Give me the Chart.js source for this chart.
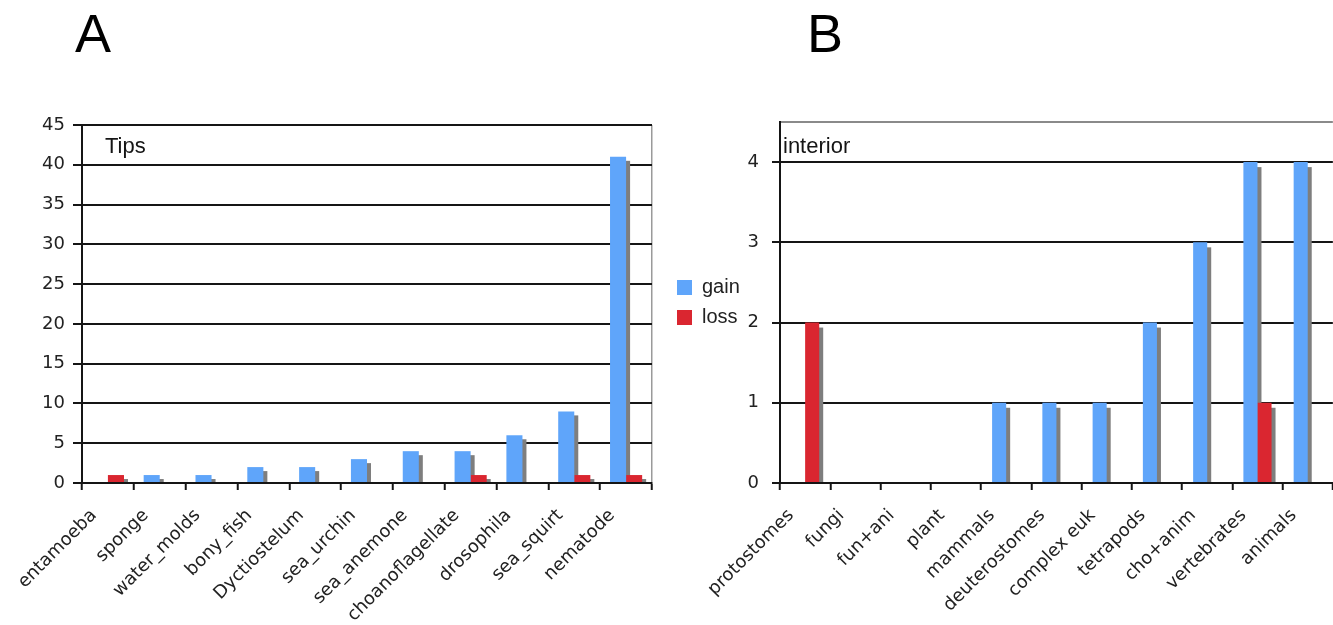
<!DOCTYPE html>
<html><head><meta charset="utf-8">
<script src="https://cdn.jsdelivr.net/npm/chart.js@4.4.1/dist/chart.umd.min.js"></script>
<style>
html,body{margin:0;padding:0;background:#fff;}
body{width:1333px;height:625px;position:relative;overflow:hidden;}
.panel{position:absolute;font-family:"Liberation Sans",Arial,sans-serif;font-size:54px;line-height:54px;color:#000;}
canvas{position:absolute;top:0;}
#cA{left:0;}
#cB{left:660px;}
</style></head><body>
<canvas id="cA" width="660" height="625"></canvas>
<canvas id="cB" width="678" height="625"></canvas>
<div class="panel" style="left:75px;top:6px">A</div>
<div class="panel" style="left:807px;top:6px">B</div>
<script>
// ---- data ----
const tipsCategories = ["entamoeba","sponge","water_molds","bony_fish","Dyctiostelum","sea_urchin","sea_anemone","choanoflagellate","drosophila","sea_squirt","nematode"];
const tipsGain = [0,1,1,2,2,3,4,4,6,9,41];
const tipsLoss = [1,0,0,0,0,0,0,1,0,1,1];
const tipsTicks = [0,5,10,15,20,25,30,35,40,45];

const interiorCategories = ["protostomes","fungi","fun+ani","plant","mammals","deuterostomes","complex euk","tetrapods","cho+anim","vertebrates","animals"];
const interiorGain = [0,0,0,0,1,1,1,2,3,4,4];
const interiorLoss = [2,0,0,0,0,0,0,0,0,1,0];
const interiorTicks = [0,1,2,3,4];

const seriesNames = ["gain","loss"];
const GAIN = "#5fa5fa", LOSS = "#da2630", SHADOW = "#7e7e7e", INK = "#151515";

// ---- plugins ----
const barShadow = {
  id:'barShadow',
  beforeDatasetsDraw(chart, args, o){
    const {ctx, chartArea:a} = chart;
    ctx.save();
    ctx.beginPath(); ctx.rect(a.left, a.top, a.right-a.left, a.bottom-a.top); ctx.clip();
    ctx.fillStyle = o.color;
    chart.data.datasets.forEach((ds,i)=>{
      const meta = chart.getDatasetMeta(i);
      if (meta.hidden) return;
      meta.data.forEach((el,j)=>{
        if (!ds.data[j]) return;
        const p = el.getProps(['x','y','base','width'], true);
        ctx.fillRect(p.x - p.width/2 + o.dx, p.y + o.dy, p.width, p.base - p.y - o.dy);
      });
    });
    ctx.restore();
  }
};
const cornerLabel = {
  id:'cornerLabel',
  afterDatasetsDraw(chart, args, o){
    const {ctx, chartArea:a} = chart;
    ctx.save();
    ctx.font = o.font; ctx.fillStyle = INK; ctx.textAlign='left'; ctx.textBaseline='alphabetic';
    ctx.fillText(o.text, a.left + o.dx, a.top + o.dy);
    ctx.restore();
  }
};

const tickFont = {family:"DejaVu Sans", size:18};

function makeConfig(cats, gain, loss, opts){
  return {
    type:'bar',
    data:{labels:cats, datasets:[
      {label:seriesNames[0], data:gain, backgroundColor:GAIN, borderWidth:0},
      {label:seriesNames[1], data:loss, backgroundColor:LOSS, borderWidth:0}
    ]},
    options:{
      responsive:false, animation:false, events:[],
      layout:{padding:opts.padding},
      datasets:{bar:{categoryPercentage:opts.catPct, barPercentage:1}},
      plugins:{
        legend:opts.legend,
        tooltip:{enabled:false},
        barShadow:{color:SHADOW, dx:4, dy:opts.shadowDy},
        cornerLabel:{text:opts.cornerText, font:'22px "Liberation Sans", Arial, sans-serif', dx:opts.cornerDx, dy:opts.cornerDy}
      },
      scales:{
        x:{
          grid:{offset:true, drawOnChartArea:true, drawTicks:true, tickLength:7, tickWidth:2, tickColor:INK,
                color:(c)=> c.type==='tick' ? 'rgba(0,0,0,0)' : opts.rightBorder, lineWidth:1.5},
          border:{color:INK, width:2},
          ticks:{font:tickFont, color:'#222', minRotation:45, maxRotation:45, autoSkip:false, padding:15, labelOffset:-14},
          afterFit:(s)=>{ s.height = 142; }
        },
        y:{
          min:0, max:opts.yMax,
          afterBuildTicks:(s)=>{ s.ticks = opts.ticks.concat(opts.yMax>opts.ticks[opts.ticks.length-1]?[opts.yMax]:[]).map(v=>({value:v})); },
          ticks:{font:tickFont, color:'#222', padding:opts.yPad, callback:(v)=> opts.ticks.includes(v) ? String(v) : ''},
          grid:{lineWidth:2, tickLength:opts.yTick,
                color:(c)=> (c.tick && !opts.ticks.includes(c.tick.value)) ? '#8a8a8a' : INK,
                tickColor:(c)=> (c.tick && !opts.ticks.includes(c.tick.value)) ? 'rgba(0,0,0,0)' : INK},
          border:{color:INK, width:2},
          afterFit:(s)=>{ s.width = opts.yWidth; }
        }
      }
    },
    plugins:[barShadow, cornerLabel]
  };
}

new Chart(document.getElementById('cA'), makeConfig(tipsCategories, tipsGain, tipsLoss, {
  padding:{left:0,right:8,top:125,bottom:0}, catPct:0.62, shadowDy:4,
  legend:{display:false}, cornerText:'Tips', cornerDx:23, cornerDy:28,
  rightBorder:'#9a9a9a', yMax:45, ticks:tipsTicks, yPad:8, yTick:9, yWidth:82
}));

new Chart(document.getElementById('cB'), makeConfig(interiorCategories, interiorGain, interiorLoss, {
  padding:{left:7,right:0,top:122,bottom:0}, catPct:0.56, shadowDy:5,
  legend:{display:true, position:'left', fullSize:false, align:'center', maxWidth:72,
          labels:{boxWidth:15, boxHeight:15, padding:10, color:'#222', font:{family:'Liberation Sans', size:20}}},
  cornerText:'interior', cornerDx:3, cornerDy:31,
  rightBorder:'rgba(0,0,0,0)', yMax:4.5, ticks:interiorTicks, yPad:13, yTick:8, yWidth:41
}));
</script>
</body></html>
